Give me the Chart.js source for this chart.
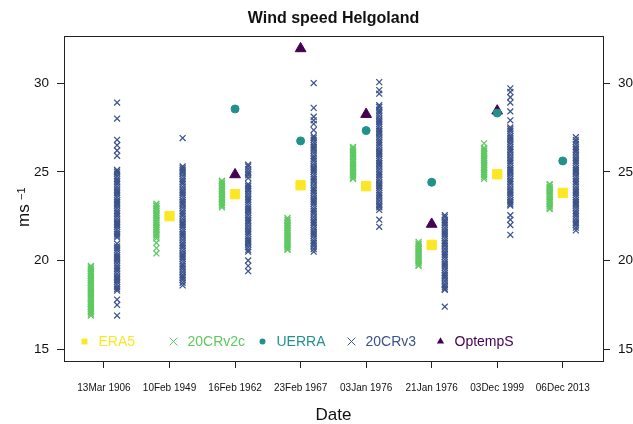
<!DOCTYPE html>
<html>
<head>
<meta charset="utf-8">
<script src="https://cdn.jsdelivr.net/npm/chart.js@4.4.1/dist/chart.umd.min.js"></script>
<style>
  body { margin: 0; background: #fff; }
  canvas { display: block; }
</style>
</head>
<body>
<canvas id="windChart" width="633" height="424"></canvas>
<script>
// storm dates on the x axis
var dates = ['13Mar 1906', '10Feb 1949', '16Feb 1962', '23Feb 1967',
             '03Jan 1976', '21Jan 1976', '03Dec 1999', '06Dec 2013'];

// single-valued products (null = no data for that storm)
var era5    = [null, 22.5, 23.74, 24.24, 24.19, 20.88, 24.86, 23.81];
var uerra   = [null, null, 28.54, 26.74, 27.32, 24.41, 28.31, 25.61];
var optemps = [null, null, 24.84, 31.94, 28.24, 22.05, 28.43, null];

// ensemble members, one list per storm
var v2c = [
  [19.7, 19.65, 19.55, 19.5, 19.4, 19.3, 19.25, 19.15, 19.1, 19.0, 18.9, 18.85, 18.75, 18.7, 18.6, 18.5, 18.45, 18.35, 18.3, 18.2, 18.1, 18.05, 17.95, 17.9, 17.8, 17.7, 17.65, 17.55, 17.5, 17.4, 17.3, 17.25, 17.15, 17.1, 17.0, 16.9],
  [23.2, 23.1, 23.05, 22.95, 22.9, 22.8, 22.7, 22.65, 22.55, 22.5, 22.4, 22.3, 22.25, 22.15, 22.1, 22.0, 21.9, 21.85, 21.75, 21.7, 21.6, 21.5, 21.45, 21.35, 21.25, 21.0, 20.7, 20.4],
  [24.5, 24.45, 24.35, 24.3, 24.2, 24.15, 24.05, 24.0, 23.9, 23.85, 23.75, 23.7, 23.6, 23.55, 23.45, 23.4, 23.3, 23.25, 23.15, 23.1, 23.0],
  [22.4, 22.3, 22.25, 22.15, 22.1, 22.0, 21.95, 21.85, 21.8, 21.7, 21.6, 21.55, 21.45, 21.4, 21.3, 21.2, 21.15, 21.05, 21.0, 20.9, 20.8, 20.75, 20.65, 20.6],
  [26.4, 26.35, 26.25, 26.2, 26.1, 26.0, 25.95, 25.85, 25.8, 25.7, 25.6, 25.55, 25.45, 25.4, 25.3, 25.2, 25.15, 25.05, 25.0, 24.9, 24.8, 24.75, 24.65, 24.6],
  [21.05, 20.95, 20.9, 20.8, 20.7, 20.65, 20.55, 20.5, 20.4, 20.3, 20.25, 20.15, 20.1, 20.0, 19.9, 19.85, 19.75, 19.7],
  [26.6, 26.35, 26.3, 26.2, 26.15, 26.05, 26.0, 25.9, 25.8, 25.75, 25.65, 25.6, 25.5, 25.4, 25.35, 25.25, 25.2, 25.1, 25.0, 24.95, 24.85, 24.8, 24.7, 24.6],
  [24.3, 24.25, 24.15, 24.1, 24.0, 23.9, 23.85, 23.75, 23.7, 23.6, 23.5, 23.45, 23.35, 23.3, 23.2, 23.1, 23.05, 22.95, 22.9]
];
var v3 = [
  [28.9, 28.0, 26.8, 26.5, 26.2, 25.9, 25.1, 25.0, 24.9, 24.75, 24.6, 24.5, 24.4, 24.3, 24.15, 24.0, 23.9, 23.8, 23.7, 23.55, 23.4, 23.3, 23.2, 23.1, 22.95, 22.8, 22.7, 22.6, 22.5, 22.35, 22.2, 22.1, 22.0, 21.9, 21.75, 21.6, 21.5, 21.4, 21.3, 20.95, 20.8, 20.7, 20.6, 20.45, 20.3, 20.2, 20.1, 20.0, 19.85, 19.7, 19.6, 19.5, 19.4, 19.25, 19.1, 19.0, 18.9, 18.8, 18.65, 18.5, 18.4, 18.3, 17.8, 17.5, 16.9],
  [26.9, 25.3, 25.2, 25.1, 25.0, 24.9, 24.75, 24.6, 24.5, 24.4, 24.3, 24.15, 24.0, 23.9, 23.8, 23.7, 23.55, 23.4, 23.3, 23.2, 23.1, 22.95, 22.8, 22.7, 22.6, 22.5, 22.35, 22.2, 22.1, 22.0, 21.9, 21.75, 21.6, 21.5, 21.4, 21.3, 21.15, 21.0, 20.9, 20.8, 20.7, 20.55, 20.4, 20.3, 20.2, 20.1, 19.95, 19.8, 19.7, 19.6, 19.5, 19.35, 19.2, 19.1, 19.0, 18.9, 18.75, 18.6],
  [25.4, 25.3, 25.15, 25.0, 24.9, 24.8, 24.65, 24.3, 24.2, 24.1, 24.0, 23.9, 23.75, 23.6, 23.5, 23.4, 23.3, 23.15, 23.0, 22.9, 22.8, 22.7, 22.55, 22.4, 22.3, 22.2, 22.1, 21.95, 21.8, 21.7, 21.6, 21.5, 21.35, 21.2, 21.1, 21.0, 20.9, 20.75, 20.6, 20.5, 20.0, 19.7, 19.4],
  [30.0, 28.6, 28.1, 27.9, 27.7, 27.35, 27.0, 26.9, 26.8, 26.65, 26.5, 26.4, 26.3, 26.2, 26.05, 25.9, 25.8, 25.7, 25.6, 25.45, 25.3, 25.2, 25.1, 25.0, 24.85, 24.7, 24.6, 24.5, 24.4, 24.25, 24.1, 24.0, 23.9, 23.8, 23.65, 23.5, 23.4, 23.3, 23.2, 23.05, 22.9, 22.8, 22.7, 22.6, 22.45, 22.3, 22.2, 22.1, 22.0, 21.85, 21.7, 21.6, 21.5, 21.4, 21.25, 21.1, 21.0, 20.9, 20.8, 20.65, 20.5],
  [30.05, 29.6, 29.4, 28.75, 28.65, 28.5, 28.4, 28.3, 28.15, 28.0, 27.9, 27.8, 27.7, 27.55, 27.4, 27.3, 27.2, 27.1, 26.95, 26.8, 26.7, 26.6, 26.5, 26.35, 26.2, 26.1, 26.0, 25.9, 25.75, 25.6, 25.5, 25.4, 25.3, 25.15, 25.0, 24.9, 24.8, 24.7, 24.55, 24.4, 24.3, 24.2, 24.1, 23.95, 23.8, 23.7, 23.6, 23.5, 23.35, 23.2, 23.1, 23.0, 22.85, 22.3, 21.9],
  [22.55, 22.45, 22.3, 22.2, 22.1, 22.0, 21.85, 21.7, 21.6, 21.5, 21.4, 21.25, 21.1, 21.0, 20.9, 20.8, 20.65, 20.5, 20.4, 20.3, 20.2, 20.05, 19.9, 19.8, 19.7, 19.6, 19.45, 19.3, 19.2, 19.1, 19.0, 18.85, 18.7, 18.6, 18.5, 18.4, 18.35, 17.4],
  [29.7, 29.5, 29.2, 28.9, 28.4, 27.9, 27.5, 27.4, 27.3, 27.15, 27.0, 26.9, 26.8, 26.7, 26.55, 26.4, 26.3, 26.2, 26.1, 25.95, 25.8, 25.7, 25.6, 25.5, 25.35, 25.2, 25.1, 25.0, 24.9, 24.75, 24.6, 24.5, 24.4, 24.3, 24.15, 24.0, 23.9, 23.8, 23.7, 23.55, 23.4, 23.3, 23.2, 23.1, 22.55, 22.3, 22.0, 21.45],
  [26.95, 26.8, 26.7, 26.55, 26.4, 26.3, 26.2, 26.1, 25.95, 25.8, 25.7, 25.6, 25.5, 25.35, 25.2, 25.1, 25.0, 24.9, 24.75, 24.6, 24.5, 24.4, 24.3, 24.15, 24.0, 23.9, 23.8, 23.7, 23.55, 23.4, 23.3, 23.2, 23.1, 22.95, 22.8, 22.7, 22.6, 22.5, 22.35, 22.2, 22.1, 22.0, 21.85, 21.7]
];
var yTicks = [15, 20, 25, 30];

var FONT = "'Liberation Sans', Arial, Helvetica, sans-serif";
var colors = {
  era5: '#FDE725', v2c: '#5EC962', uerra: '#21918C', v3: '#3B528B', optemps: '#440154'
};

function single(vals){
  var pts = [];
  vals.forEach(function(v, i){ if (v != null) pts.push({x: i + 1, y: v}); });
  return pts;
}
function ensemble(groups, shift){
  var pts = [];
  groups.forEach(function(g, i){
    g.forEach(function(v){ pts.push({x: i + 1 + shift, y: v}); });
  });
  return pts;
}

function pointSet(label, data, style, radius, color, lw){
  return {
    label: label, data: data, showLine: false,
    pointStyle: style, pointRadius: radius, pointHoverRadius: radius,
    pointBackgroundColor: color, pointBorderColor: color, pointBorderWidth: lw || 1
  };
}

// legend drawn inside the plot, bottom left, like the R original
var legendItems = [
  {text: 'ERA5',    style: 'rect',     r: 4.2, color: colors.era5},
  {text: '20CRv2c', style: 'crossRot', r: 5.5, color: colors.v2c},
  {text: 'UERRA',   style: 'circle',   r: 3,   color: colors.uerra},
  {text: '20CRv3',  style: 'crossRot', r: 5.5, color: colors.v3},
  {text: 'OptempS', style: 'triangle', r: 4.2, color: colors.optemps}
];
var insideLegend = {
  id: 'insideLegend',
  afterDatasetsDraw: function(chart){
    var ctx = chart.ctx;
    var y = chart.chartArea.bottom - 19.5;
    ctx.save();
    ctx.font = '14px ' + FONT;
    ctx.textBaseline = 'middle';
    ctx.textAlign = 'left';
    legendItems.forEach(function(it, k){
      var x = chart.chartArea.left + 20.5 + 89 * k;
      ctx.fillStyle = it.color;
      ctx.strokeStyle = it.color;
      ctx.lineWidth = 1;
      Chart.helpers.drawPoint(ctx, {pointStyle: it.style, radius: it.r, rotation: 0, borderWidth: it.style == 'crossRot' ? 1 : 0}, x, y);
      ctx.fillStyle = it.color;
      ctx.fillText(it.text, x + 14, y + 0.5);
    });
    ctx.restore();
  }
};

// y unit with a raised -1
var unitLabel = {
  id: 'unitLabel',
  afterDraw: function(chart){
    var ctx = chart.ctx;
    ctx.save();
    ctx.translate(28.5, 227);
    ctx.rotate(-Math.PI / 2);
    ctx.fillStyle = '#111';
    ctx.textBaseline = 'alphabetic';
    ctx.textAlign = 'left';
    ctx.font = '17px ' + FONT;
    ctx.fillText('ms', 0, 0);
    ctx.font = '11px ' + FONT;
    ctx.fillText('\u22121', 27, -3.5);
    ctx.restore();
  }
};

var datasets = [
  pointSet('ERA5', single(era5), 'rect', 6.6, colors.era5),
  pointSet('UERRA', single(uerra), 'circle', 4, colors.uerra),
  pointSet('OptempS', single(optemps), 'triangle', 6.2, colors.optemps),
  pointSet('20CRv2c', ensemble(v2c, -0.2), 'crossRot', 4.2, colors.v2c, 1.25),
  pointSet('20CRv3', ensemble(v3, 0.2), 'crossRot', 4.2, colors.v3, 1.25)
];

var xMin = 0.39, xMax = 8.614, yMin = 14.34, yMax = 32.65;
var axisCol = '#222';

new Chart(document.getElementById('windChart'), {
  type: 'scatter',
  data: { datasets: datasets },
  options: {
    responsive: false,
    animation: false,
    devicePixelRatio: 1,
    events: [],
    layout: { padding: 0 },
    plugins: { legend: { display: false }, tooltip: { enabled: false } },
    scales: {
      x: {
        type: 'linear', position: 'bottom', min: xMin, max: xMax,
        afterBuildTicks: function(s){ s.ticks = dates.map(function(d, i){ return {value: i + 1}; }); },
        ticks: {
          autoSkip: false, maxRotation: 0, padding: 14, color: '#111',
          font: { size: 10, family: FONT },
          callback: function(v){ return dates[Math.round(v) - 1]; }
        },
        grid: { drawOnChartArea: false, tickLength: 7, color: axisCol },
        border: { color: axisCol },
        title: { display: true, text: 'Date', color: '#111', font: { size: 17, family: FONT, lineHeight: 1 }, padding: 0 },
        afterFit: function(s){ s.height = 63; }
      },
      x2: {
        type: 'linear', position: 'top', min: xMin, max: xMax,
        ticks: { display: false },
        grid: { drawOnChartArea: false, drawTicks: false },
        border: { color: axisCol },
        title: { display: true, text: 'Wind speed Helgoland', color: '#111', font: { size: 16, weight: 'bold', family: FONT, lineHeight: 1 }, padding: { top: 11, bottom: 0 } },
        afterFit: function(s){ s.height = 36; }
      },
      y: {
        type: 'linear', position: 'left', min: yMin, max: yMax,
        afterBuildTicks: function(s){ s.ticks = yTicks.map(function(v){ return {value: v}; }); },
        ticks: { padding: 8, color: '#111', font: { size: 13.5, family: FONT } },
        grid: { drawOnChartArea: false, tickLength: 7, color: axisCol },
        border: { color: axisCol },
        afterFit: function(s){ s.width = 64; }
      },
      y2: {
        type: 'linear', position: 'right', min: yMin, max: yMax,
        afterBuildTicks: function(s){ s.ticks = yTicks.map(function(v){ return {value: v}; }); },
        ticks: { padding: 8, color: '#111', font: { size: 13.5, family: FONT } },
        grid: { drawOnChartArea: false, tickLength: 7, color: axisCol },
        border: { color: axisCol },
        afterFit: function(s){ s.width = 30; }
      }
    }
  },
  plugins: [insideLegend, unitLabel]
});
</script>
</body>
</html>
